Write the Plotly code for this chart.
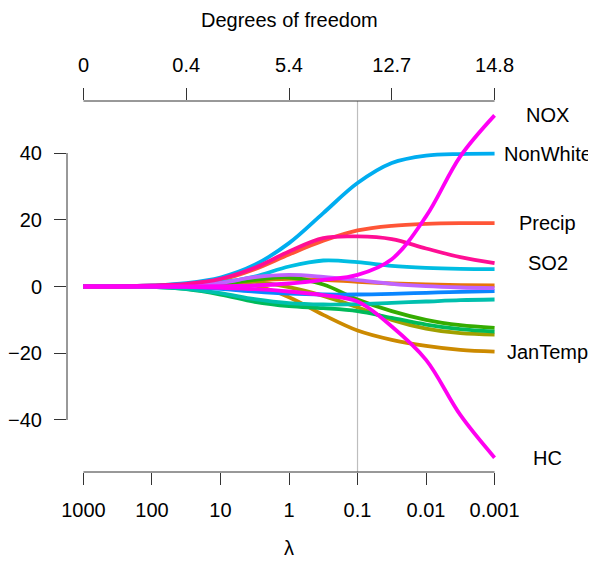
import plotly.graph_objects as go

# lambda grid (half-decades, 1000 -> 0.001)
lambdas = [1000, 316.2, 100, 31.62, 10, 3.162, 1, 0.3162, 0.1, 0.03162, 0.01, 0.003162, 0.001]

Precip   = [0, 0, 0.2, 0.7, 2.0, 5.2, 9.6, 13.7, 16.8, 18.2, 18.8, 19.0, 19.0]
JulyTemp = [0, 0, 0, 0.2, 0.8, 1.8, 2.3, 2.0, 1.4, 0.9, 0.6, 0.4, 0.3]
JanTemp  = [0, 0, 0, 0.2, 0.6, 0.3, -3.2, -8.5, -13.2, -16.0, -17.8, -19.0, -19.5]
Over65   = [0, 0, 0.1, 0.4, 1.2, 1.4, -0.2, -2.8, -6.2, -10.0, -12.6, -14.0, -14.4]
Popn     = [0, 0, 0, 0.2, 0.8, 2.0, 2.7, 0.6, -3.9, -7.4, -10.0, -11.6, -12.4]
Educ     = [0, 0, -0.1, -0.8, -2.4, -4.6, -5.9, -6.5, -7.4, -9.4, -11.4, -12.8, -13.5]
Housing  = [0, 0, -0.1, -0.7, -2.0, -3.8, -5.0, -5.4, -5.3, -4.9, -4.5, -4.1, -3.9]
Dens     = [0, 0, 0.1, 0.4, 1.2, 3.0, 6.0, 7.8, 7.3, 6.2, 5.6, 5.3, 5.2]
NonWhite = [0, 0, 0.3, 1.0, 2.7, 6.5, 13.0, 22.0, 31.0, 37.0, 39.2, 39.7, 39.8]
WhiteCol = [0, 0, 0, -0.2, -0.7, -1.5, -2.1, -2.4, -2.4, -2.2, -1.9, -1.6, -1.4]
Poor     = [0, 0, 0, 0.3, 1.1, 2.8, 3.5, 2.9, 1.9, 0.8, 0.1, -0.3, -0.5]
HC       = [0, 0, 0, -0.1, -0.4, -0.8, -1.5, -2.6, -4.5, -12.0, -22.0, -38.5, -51.3]
NOX      = [0, 0, 0, 0, 0.1, 0.3, 0.9, 2.0, 3.5, 8.2, 21.0, 39.0, 51.3]
SO2      = [0, 0, 0.3, 0.8, 2.3, 5.6, 10.5, 14.5, 15.0, 14.2, 11.4, 8.8, 7.0]

series = [
    ("Precip", Precip, "#FF5537", True),
    ("JulyTemp", JulyTemp, "#E8740A", False),
    ("JanTemp", JanTemp, "#CC8A00", True),
    ("Over65", Over65, "#A0A000", False),
    ("Popn", Popn, "#35AC00", False),
    ("Educ", Educ, "#00BA5A", False),
    ("Housing", Housing, "#00C0AE", False),
    ("Dens", Dens, "#00BDE2", False),
    ("NonWhite", NonWhite, "#00ADF0", True),
    ("WhiteCol", WhiteCol, "#0A86FF", False),
    ("Poor", Poor, "#BF63FF", False),
    ("SO2", SO2, "#FF0E94", True),
    ("HC", HC, "#FF00F0", True),
    ("NOX", NOX, "#FF00F5", True),
]

x_ticks = [1000, 100, 10, 1, 0.1, 0.01, 0.001]
x_ticktext = ["1000", "100", "10", "1", "0.1", "0.01", "0.001"]
df_ticks = [1000, 31.62, 1, 0.03162, 0.001]
df_ticktext = ["0", "0.4", "5.4", "12.7", "14.8"]
y_ticks = [-40, -20, 0, 20, 40]
y_ticktext = ["\u221240", "\u221220", "0", "20", "40"]
ref_lambda = 0.1

FONT = "Liberation Sans, Arial, sans-serif"
FS = 20

fig = go.Figure()
for name, vals, col, lab in series:
    fig.add_trace(go.Scatter(x=lambdas, y=vals, mode="lines", name=name,
                             line=dict(color=col, width=3.8, shape="spline", smoothing=1.0),
                             showlegend=False, hoverinfo="skip"))

# page has an 8px body margin: size the figure to fit the 596x566 window
OFF = 8
W, H = 596 - OFF, 566 - OFF
L, R, T, B = 67 - OFF, 85, 101 - OFF, 94
PW, PH = W - L - R, H - T - B

xr = [3.24, -3.24]
axcommon = dict(ticks="outside", ticklen=12, tickwidth=1, tickcolor="#333",
                showline=False, showgrid=False, zeroline=False,
                ticklabelstandoff=8, automargin=False)
fig.update_layout(
    width=W, height=H,
    margin=dict(l=L, r=R, t=T, b=B, autoexpand=False),
    plot_bgcolor="white", paper_bgcolor="white",
    font=dict(family=FONT, size=FS, color="black"),
    xaxis=dict(type="log", range=xr, tickvals=x_ticks, ticktext=x_ticktext, **axcommon),
    xaxis2=dict(type="log", range=xr, overlaying="x", side="top",
                tickvals=df_ticks, ticktext=df_ticktext, **axcommon),
    yaxis=dict(range=[-55.6, 55.6], tickvals=y_ticks, ticktext=y_ticktext, **axcommon),
)
# dummy trace to anchor top axis
fig.add_trace(go.Scatter(x=[lambdas[0]], y=[0], xaxis="x2", mode="lines",
                         showlegend=False, hoverinfo="skip", line=dict(width=0)))

# axis lines spanning tick ranges (R style)
fig.add_shape(type="line", xref="x", yref="paper", x0=max(x_ticks), x1=min(x_ticks), y0=0, y1=0,
              line=dict(color="#333", width=1))
fig.add_shape(type="line", xref="x", yref="paper", x0=max(df_ticks), x1=min(df_ticks), y0=1, y1=1,
              line=dict(color="#333", width=1))
fig.add_shape(type="line", xref="paper", yref="y", x0=0, x1=0, y0=min(y_ticks), y1=max(y_ticks),
              line=dict(color="#333", width=1))
# reference line at chosen lambda
fig.add_shape(type="line", xref="x", yref="paper", x0=ref_lambda, x1=ref_lambda, y0=0, y1=1,
              line=dict(color="#BEBEBE", width=1.2), layer="below")

# end labels (page x ~548)
for name, vals, col, lab in series:
    if lab:
        fig.add_annotation(x=(547.5 - OFF - L) / PW, xref="paper", y=vals[-1], yref="y", text=name,
                           showarrow=False, xanchor="center", yanchor="middle",
                           font=dict(size=FS))

cx = (289 - OFF - L) / PW
fig.add_annotation(x=cx, xref="paper", y=(H - B - (19.5 - OFF)) / PH, yref="paper",
                   text="Degrees of freedom", showarrow=False, xanchor="center", yanchor="middle",
                   font=dict(size=FS))
fig.add_annotation(x=cx, xref="paper", y=-((548 - OFF) - (H - B)) / PH, yref="paper",
                   text="\u03bb", showarrow=False, xanchor="center", yanchor="middle",
                   font=dict(size=FS))

fig.write_html("out.html")
